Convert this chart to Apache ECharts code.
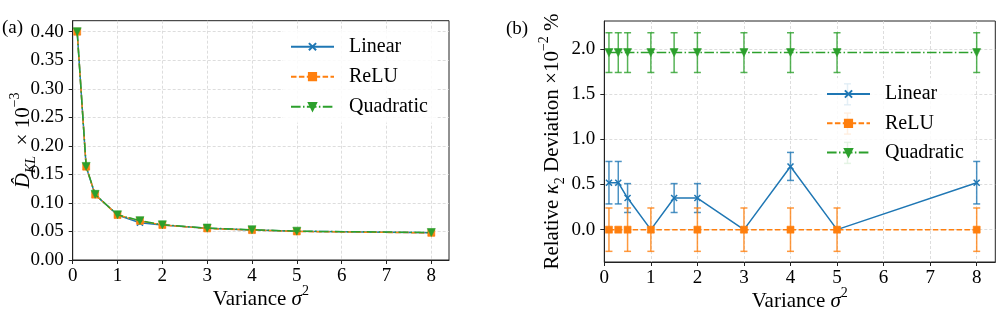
<!DOCTYPE html>
<html><head><meta charset="utf-8">
<script src="https://cdn.jsdelivr.net/npm/echarts@6/dist/echarts.min.js"></script>
<style>html,body{margin:0;padding:0;background:#fff}#c{width:996px;height:313px}</style>
</head><body><div id="c"></div>
<script>
// ---- Data ----
const seriesNames = ['Linear', 'ReLU', 'Quadratic'];
const xTicks = [0, 1, 2, 3, 4, 5, 6, 7, 8];
const yTicksA = [0, 0.05, 0.10, 0.15, 0.20, 0.25, 0.30, 0.35, 0.40];
const yTicksB = [0, 0.5, 1.0, 1.5, 2.0];

// (a) KL divergence
const xA = [0.1, 0.3, 0.5, 1, 1.5, 2, 3, 4, 5, 8];
const klLinear = [0.400, 0.1635, 0.1145, 0.0788, 0.0654, 0.0613, 0.0556, 0.0526, 0.0502, 0.0478];
const klRelu   = [0.400, 0.1635, 0.1145, 0.0788, 0.0686, 0.0613, 0.0553, 0.0524, 0.0500, 0.0476];
const klQuad   = [0.400, 0.1640, 0.1150, 0.0792, 0.0689, 0.0617, 0.0560, 0.0530, 0.0505, 0.0482];

// (b) Relative kappa2 deviation
const xBLinear = [0.1, 0.3, 0.5, 1, 1.5, 2, 3, 4, 5, 8];
const devLinear = [0.52, 0.52, 0.35, 0, 0.35, 0.35, 0, 0.70, 0, 0.52];
const errLinear = [0.235, 0.235, 0.16, 0, 0.16, 0.16, 0, 0.155, 0, 0.235];
const xBRelu = [0.1, 0.3, 0.5, 1, 2, 3, 4, 5, 8];
const devRelu = [0, 0, 0, 0, 0, 0, 0, 0, 0];
const errRelu = [0.24, 0, 0.24, 0.24, 0.24, 0.24, 0.24, 0.24, 0.24];
const xBQuad = [0.1, 0.3, 0.5, 1, 1.5, 2, 3, 4, 5, 8];
const devQuad = [1.96, 1.96, 1.96, 1.96, 1.96, 1.96, 1.96, 1.96, 1.96, 1.96];
const errQuad = [0.22, 0.22, 0.22, 0.22, 0.22, 0.22, 0.22, 0.22, 0.22, 0.22];

// ---- Styles ----
const C = ['#1f77b4', '#ff7f0e', '#2ca02c'];
const FONT = "'Liberation Serif', 'Times New Roman', serif";
const X_PATH = 'path://M0,0L10,10M0,10L10,0';
const LS = ['solid', [5.5, 2.4], [9.6, 2.4, 1.5, 2.4]];
const SYM = [X_PATH, 'rect', 'triangle'];
const SYMSIZE = [6, 7, 8];
const SYMROT = [0, 0, 180];

function zip(xs, ys) { return xs.map((x, i) => [x, ys[i]]); }

function lineSeries(k, xs, ys, gi) {
  return {
    name: seriesNames[k], type: 'line', xAxisIndex: gi, yAxisIndex: gi,
    data: zip(xs, ys), symbol: SYM[k], symbolSize: SYMSIZE[k], symbolRotate: SYMROT[k],
    showSymbol: true, z: 2 + k * 2, animation: false, silent: true,
    itemStyle: { color: C[k], borderColor: C[k], borderWidth: k === 0 ? 1.5 : 0.6, opacity: 1 },
    lineStyle: { color: C[k], width: 1.5, type: LS[k] },
    emphasis: { disabled: true }
  };
}

function errSeries(k, xs, ys, es, gi) {
  return {
    type: 'custom', xAxisIndex: gi, yAxisIndex: gi, z: 1 + k * 2, silent: true, animation: false,
    data: xs.map((x, i) => [x, ys[i], es[i]]),
    encode: { x: 0, y: 1 },
    renderItem(params, api) {
      const x = api.value(0), y = api.value(1), e = api.value(2);
      if (!e) return null;
      const t = api.coord([x, y + e]), b = api.coord([x, y - e]);
      const cw = 3.5;
      const st = { stroke: C[k], lineWidth: 1.5, opacity: 0.8 };
      return { type: 'group', children: [
        { type: 'line', shape: { x1: t[0], y1: t[1], x2: b[0], y2: b[1] }, style: st },
        { type: 'line', shape: { x1: t[0] - cw, y1: t[1], x2: t[0] + cw, y2: t[1] }, style: st },
        { type: 'line', shape: { x1: b[0] - cw, y1: b[1], x2: b[0] + cw, y2: b[1] }, style: st }
      ]};
    }
  };
}

const axisCommon = {
  axisLine: { show: true, onZero: false, lineStyle: { color: '#222', width: 1 } },
  axisTick: { show: true, inside: false, length: 4, lineStyle: { color: '#222', width: 1 } },
  splitLine: { show: true, lineStyle: { color: '#d4d4d4', width: 0.8, type: [3, 2] } },
  nameMoveOverlap: false,
  nameTextStyle: { fontFamily: FONT, color: '#000' }
};

function xAxis(gi, max) {
  return Object.assign({}, axisCommon, {
    type: 'value', gridIndex: gi, min: 0, max: max, interval: 1,
    axisTick: Object.assign({}, axisCommon.axisTick, { customValues: xTicks }),
    axisLabel: { customValues: xTicks, fontFamily: FONT, fontSize: 19, color: '#000', margin: 7 },
    name: '{n|Variance }{i|σ}{sup|2}', nameLocation: 'middle', nameGap: 24,
    nameTextStyle: { fontFamily: FONT, color: '#000', rich: {
      n: { fontFamily: FONT, fontSize: 21, lineHeight: 30 },
      i: { fontFamily: FONT, fontSize: 21, fontStyle: 'italic', lineHeight: 30 },
      sup: { fontFamily: FONT, fontSize: 14, lineHeight: 16, verticalAlign: 'top' }
    } }
  });
}

const option = {
  backgroundColor: '#fff',
  animation: false,
  textStyle: { fontFamily: FONT },
  grid: [
    { left: 72.7, top: 20.7, width: 376.3, height: 239.3, show: true, borderColor: '#222', borderWidth: 1,
      backgroundColor: 'transparent', containLabel: false, outerBoundsMode: 'none' },
    { left: 604.3, top: 21, width: 391, height: 241, show: true, borderColor: '#222', borderWidth: 1,
      backgroundColor: 'transparent', containLabel: false, outerBoundsMode: 'none' }
  ],
  xAxis: [xAxis(0, 8.395), xAxis(1, 8.4)],
  yAxis: [
    Object.assign({}, axisCommon, {
      type: 'value', gridIndex: 0, min: 0, max: 0.4193, interval: 0.05,
      axisTick: Object.assign({}, axisCommon.axisTick, { customValues: yTicksA }),
      axisLabel: { customValues: yTicksA, fontFamily: FONT, fontSize: 19, color: '#000', margin: 9,
        formatter: v => v.toFixed(2) },
      name: '{i|D̂}{sub|KL}{n|  × 10}{sup|−3}', nameLocation: 'middle', nameGap: 34,
      nameTextStyle: { fontFamily: FONT, color: '#000', rich: {
        i: { fontFamily: FONT, fontSize: 21, fontStyle: 'italic', lineHeight: 30 },
        sub: { fontFamily: FONT, fontSize: 14, fontStyle: 'italic', lineHeight: 16, verticalAlign: 'bottom' },
        n: { fontFamily: FONT, fontSize: 21, lineHeight: 30 },
        sup: { fontFamily: FONT, fontSize: 14, lineHeight: 16, verticalAlign: 'top' }
      } }
    }),
    Object.assign({}, axisCommon, {
      type: 'value', gridIndex: 1, min: -0.358, max: 2.31, splitNumber: 5,
      axisTick: Object.assign({}, axisCommon.axisTick, { customValues: yTicksB }),
      axisLabel: { customValues: yTicksB, fontFamily: FONT, fontSize: 19, color: '#000', margin: 9,
        formatter: v => v.toFixed(1) },
      name: '{n|Relative }{i|κ}{sub|2}{n| Deviation ×10}{sup|−2}{n| %}', nameLocation: 'middle', nameGap: 37,
      nameTextStyle: { fontFamily: FONT, color: '#000', rich: {
        i: { fontFamily: FONT, fontSize: 21, fontStyle: 'italic', lineHeight: 30 },
        sub: { fontFamily: FONT, fontSize: 14, lineHeight: 16, verticalAlign: 'bottom' },
        n: { fontFamily: FONT, fontSize: 21, lineHeight: 30 },
        sup: { fontFamily: FONT, fontSize: 14, lineHeight: 16, verticalAlign: 'top' }
      } }
    })
  ],
  legend: [
    { data: seriesNames, orient: 'vertical', left: 283, top: 30.7, itemWidth: 43, itemHeight: 9, itemGap: 10,
      padding: [6, 8, 6, 7], backgroundColor: 'rgba(255,255,255,0.85)', selectedMode: false, z: 4,
      textStyle: { fontFamily: FONT, fontSize: 20, color: '#000', lineHeight: 20, padding: [0, 0, 0, 10] } },
    { data: seriesNames, orient: 'vertical', left: 819, top: 78, itemWidth: 43, itemHeight: 9, itemGap: 9.3,
      padding: [6, 8, 6, 7], backgroundColor: 'rgba(255,255,255,0.85)', selectedMode: false, z: 4,
      textStyle: { fontFamily: FONT, fontSize: 20, color: '#000', lineHeight: 20, padding: [0, 0, 0, 10] } }
  ],
  graphic: [
    { type: 'text', left: 2, top: 19, z: 10, style: { text: '(a)', fontFamily: FONT, fontSize: 19, fill: '#000' } },
    { type: 'text', left: 506, top: 20, z: 10, style: { text: '(b)', fontFamily: FONT, fontSize: 19, fill: '#000' } }
  ].concat([94.3, 123.6, 152.9].map((cy, k) => ({
    type: 'group', z: 6, children: [
      { type: 'line', shape: { x1: 847.5, y1: cy - 10.5, x2: 847.5, y2: cy + 10.5 }, style: { stroke: C[k], lineWidth: 1.5, opacity: 0.8 } },
      { type: 'line', shape: { x1: 844, y1: cy - 10.5, x2: 851, y2: cy - 10.5 }, style: { stroke: C[k], lineWidth: 1.5, opacity: 0.8 } },
      { type: 'line', shape: { x1: 844, y1: cy + 10.5, x2: 851, y2: cy + 10.5 }, style: { stroke: C[k], lineWidth: 1.5, opacity: 0.8 } }
    ]
  }))),
  series: [
    lineSeries(0, xA, klLinear, 0),
    lineSeries(1, xA, klRelu, 0),
    lineSeries(2, xA, klQuad, 0),
    errSeries(0, xBLinear, devLinear, errLinear, 1),
    lineSeries(0, xBLinear, devLinear, 1),
    errSeries(1, xBRelu, devRelu, errRelu, 1),
    lineSeries(1, xBRelu, devRelu, 1),
    errSeries(2, xBQuad, devQuad, errQuad, 1),
    lineSeries(2, xBQuad, devQuad, 1)
  ]
};

const chart = echarts.init(document.getElementById('c'), null, { renderer: 'canvas' });
chart.setOption(option);
</script>
</body></html>
